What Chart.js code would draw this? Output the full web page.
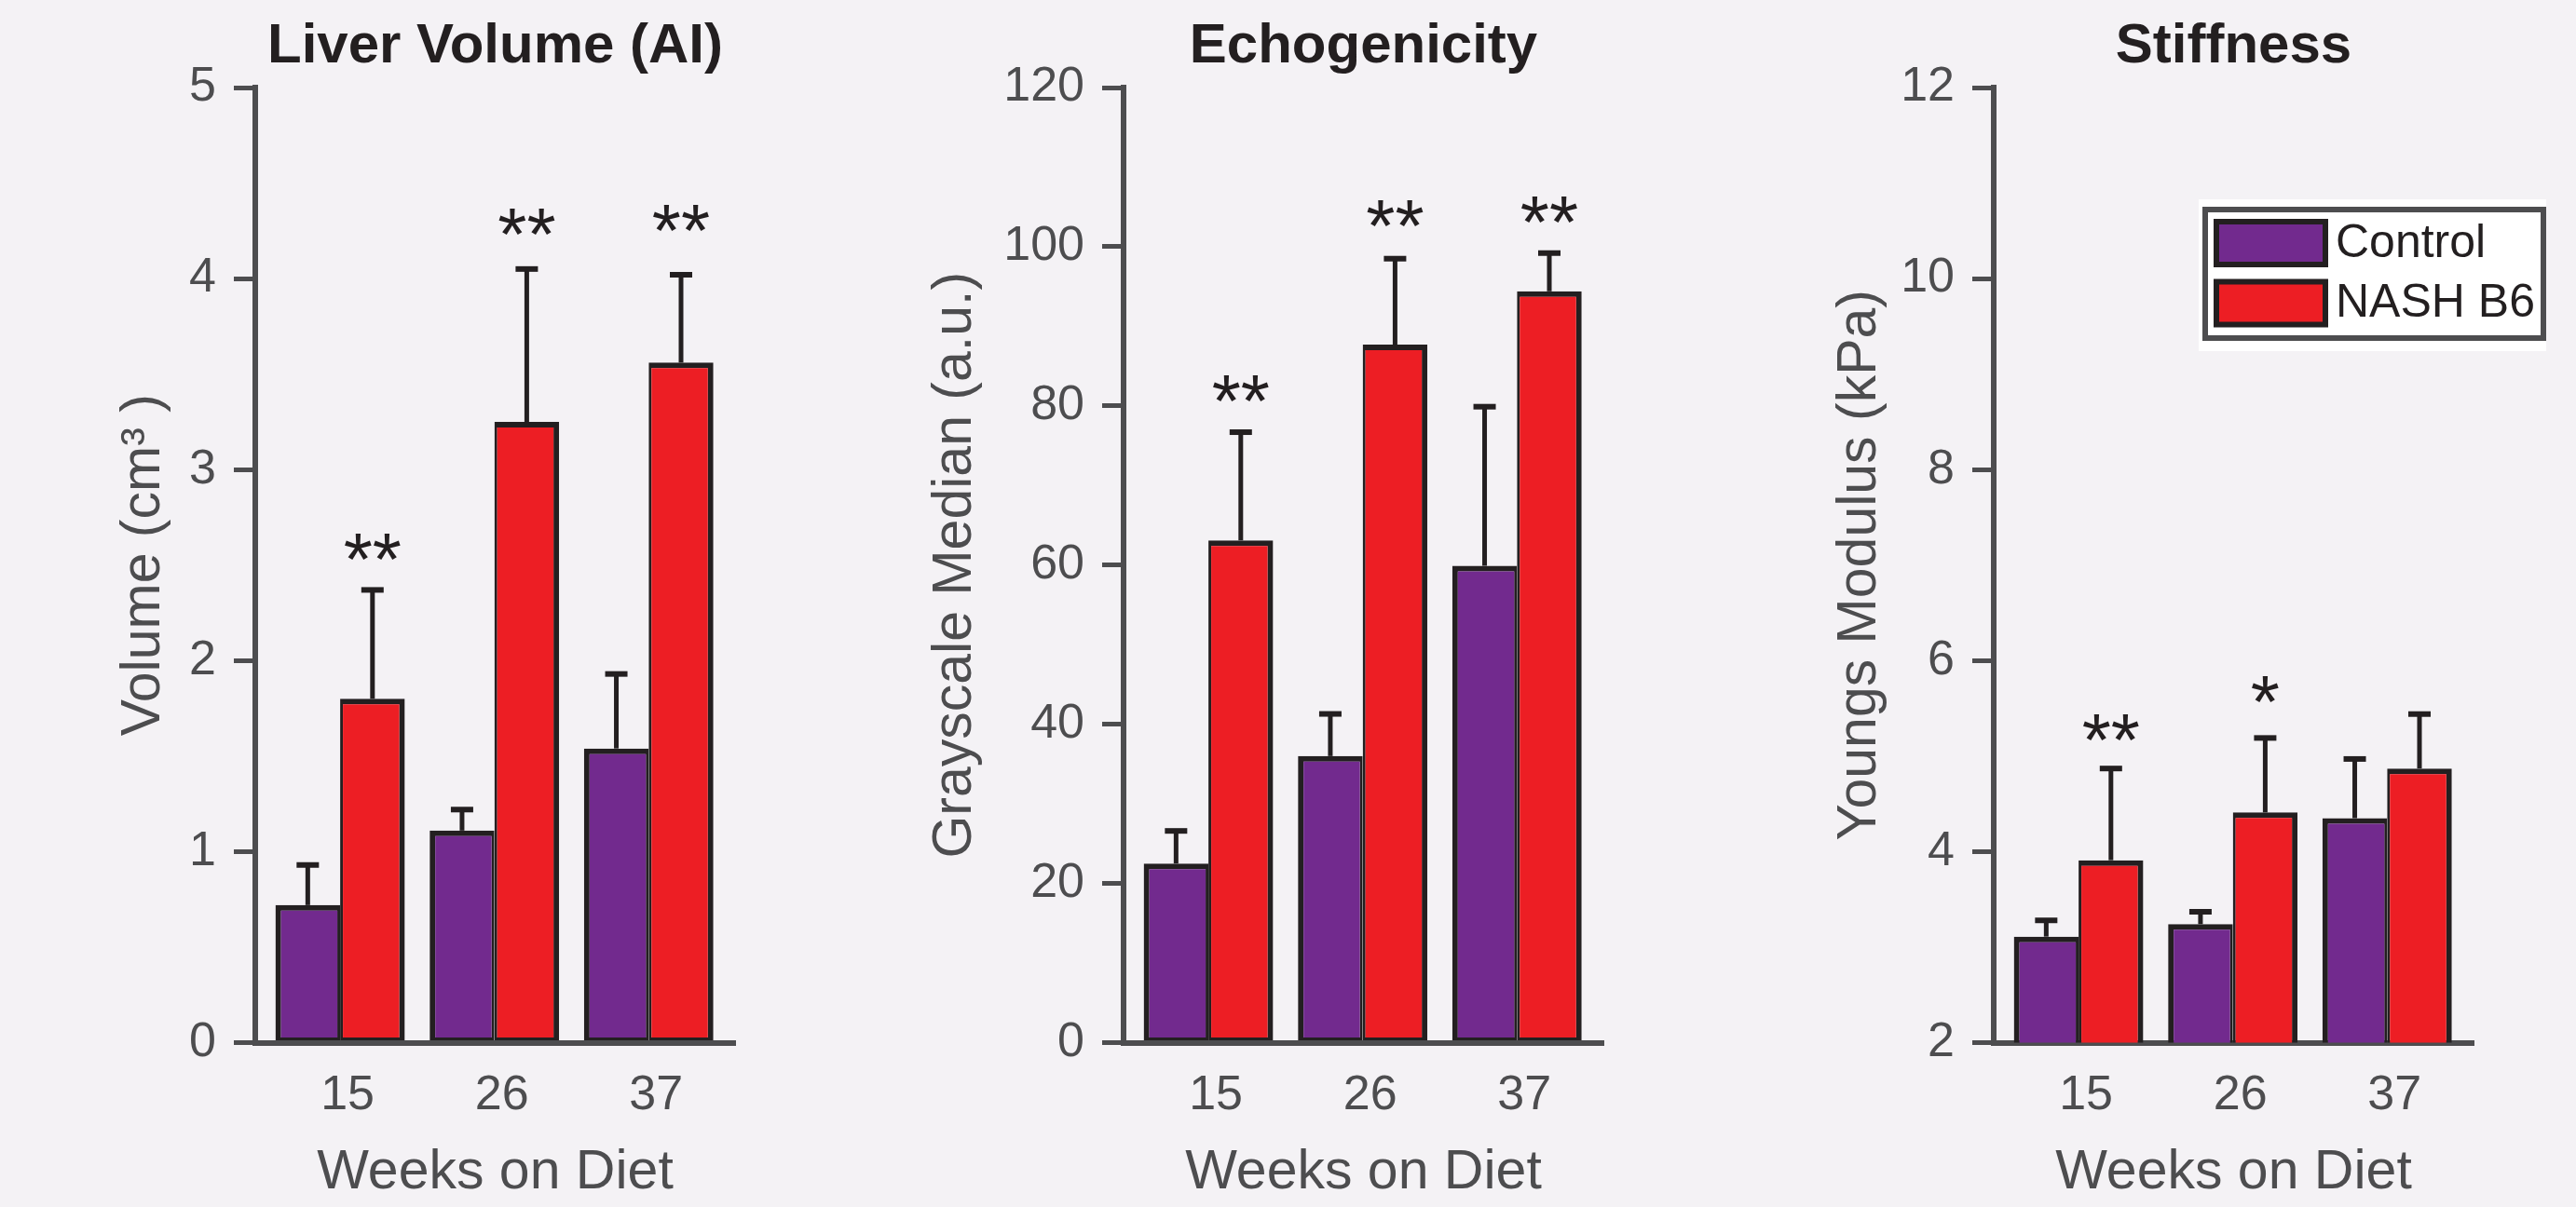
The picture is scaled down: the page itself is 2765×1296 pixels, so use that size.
<!DOCTYPE html>
<html>
<head>
<meta charset="utf-8">
<script src="https://cdn.jsdelivr.net/npm/chart.js@4"></script>
<style>
  body { margin: 0; background: #f4f2f5; overflow: hidden; }
  .panel { position: absolute; top: 0; width: 899px; height: 1296px; }
</style>
</head>
<body>
<div class="panel" style="left:0"><canvas id="volumeChart" width="899" height="1296"></canvas></div>
<div class="panel" style="left:932px"><canvas id="echoChart" width="899" height="1296"></canvas></div>
<div class="panel" style="left:1866px"><canvas id="stiffChart" width="899" height="1296"></canvas></div>
<script>
// weeks on diet, shared by all three panels
const weeks = ['15', '26', '37'];
const seriesNames = ['Control', 'NASH B6'];

// Liver volume (cm3), mean and error (upper bar only)
const volumeControl = [0.72, 1.11, 1.54];
const volumeControlErr = [0.21, 0.11, 0.39];
const volumeNash = [1.80, 3.25, 3.56];
const volumeNashErr = [0.57, 0.80, 0.46];
const volumeStars = ['**', '**', '**'];
const volumeStarY = [2.62, 4.32, 4.34];

// Echogenicity, grayscale median (a.u.)
const echoControl = [22.5, 36.0, 59.9];
const echoControlErr = [4.1, 5.3, 20.0];
const echoNash = [63.1, 87.7, 94.4];
const echoNashErr = [13.6, 10.8, 4.8];
const echoStars = ['**', '**', '**'];
const echoStarY = [82.8, 104.8, 105.3];

// Stiffness, Youngs modulus (kPa)
const stiffControl = [3.11, 3.24, 4.35];
const stiffControlErr = [0.17, 0.13, 0.62];
const stiffNash = [3.91, 4.41, 4.87];
const stiffNashErr = [0.96, 0.78, 0.57];
const stiffStars = ['**', '*', ''];
const stiffStarY = [5.35, 5.75, null];

const FONT = '"Liberation Sans", Arial, Helvetica, sans-serif';
const PURPLE = '#722a8e';
const RED = '#ed1e24';
const EDGE = '#231f20';
const AXIS = '#4d4d4f';

function toPoints(values) {
  return values.map((v, i) => ({ x: i + 1, y: v }));
}

// error bars + significance stars, one plugin per chart
function makeErrorPlugin(stars, starY) {
  return {
    id: 'errorBars',
    afterDatasetsDraw(chart) {
      const ctx = chart.ctx;
      const yScale = chart.scales.y;
      ctx.save();
      ctx.strokeStyle = EDGE;
      ctx.lineCap = 'butt';
      chart.data.datasets.forEach((ds, di) => {
        chart.getDatasetMeta(di).data.forEach((bar, i) => {
          const top = yScale.getPixelForValue(ds.data[i].y + ds.errors[i]);
          ctx.lineWidth = 5;
          ctx.beginPath();
          ctx.moveTo(bar.x, bar.y);
          ctx.lineTo(bar.x, top);
          ctx.stroke();
          ctx.lineWidth = 6;
          ctx.beginPath();
          ctx.moveTo(bar.x - 12, top);
          ctx.lineTo(bar.x + 12, top);
          ctx.stroke();
        });
      });

      const nashBars = chart.getDatasetMeta(1).data;
      const size = 80;
      ctx.fillStyle = EDGE;
      ctx.font = `${size}px ${FONT}`;
      ctx.textAlign = 'center';
      ctx.textBaseline = 'alphabetic';
      stars.forEach((s, i) => {
        if (!s) return;
        const y = yScale.getPixelForValue(starY[i]);
        ctx.fillText(s, nashBars[i].x, y + 0.575 * size);
      });
      ctx.restore();
    }
  };
}

// boxed legend drawn in the stiffness panel
const boxLegend = {
  id: 'boxLegend',
  afterDraw(chart) {
    const ctx = chart.ctx;
    ctx.save();
    ctx.fillStyle = '#ffffff';
    ctx.fillRect(494, 214, 373, 163);
    ctx.strokeStyle = AXIS;
    ctx.lineWidth = 6;
    ctx.strokeRect(501, 225, 363, 138);
    ctx.font = `50px ${FONT}`;
    ctx.textAlign = 'left';
    ctx.textBaseline = 'middle';
    chart.data.datasets.forEach((ds, i) => {
      const y = 235 + i * 64.5;
      ctx.fillStyle = EDGE;
      ctx.fillRect(510, y, 123, 52);
      ctx.fillStyle = ds.backgroundColor;
      ctx.fillRect(516, y + 6, 111, 40);
      ctx.fillStyle = EDGE;
      ctx.fillText(ds.label, 641, y + 27);
    });
    ctx.restore();
  }
};

function makeChart(id, p) {
  const ctx = document.getElementById(id).getContext('2d');
  const plugins = [makeErrorPlugin(p.stars, p.starY)];
  if (p.legend) plugins.push(boxLegend);

  return new Chart(ctx, {
    type: 'bar',
    data: {
      datasets: [
        {
          label: seriesNames[0],
          data: toPoints(p.control),
          errors: p.controlErr,
          backgroundColor: PURPLE,
          borderColor: EDGE,
          borderWidth: { top: 6, left: 6, right: 3, bottom: 3 },
          borderSkipped: false
        },
        {
          label: seriesNames[1],
          data: toPoints(p.nash),
          errors: p.nashErr,
          backgroundColor: RED,
          borderColor: EDGE,
          borderWidth: { top: 6, left: 3, right: 6, bottom: 3 },
          borderSkipped: false
        }
      ]
    },
    options: {
      responsive: false,
      animation: false,
      devicePixelRatio: 1,
      categoryPercentage: 0.839,
      barPercentage: 1,
      layout: { padding: { left: 0, right: 110, top: 0, bottom: 0 } },
      plugins: {
        legend: { display: false },
        tooltip: { enabled: false },
        title: {
          display: true,
          text: p.title,
          fullSize: false,
          color: EDGE,
          font: { family: FONT, size: 60, weight: 'bold' },
          padding: { top: 14, bottom: 8 }
        }
      },
      scales: {
        x: {
          type: 'linear',
          min: 0.45,
          max: 3.56,
          offset: false,
          afterBuildTicks: s => { s.ticks = weeks.map((w, i) => ({ value: i + 1 })); },
          afterFit: s => { s.height = 176.5; },
          grid: { display: false, drawTicks: false, offset: false },
          border: { display: true, color: AXIS, width: 6 },
          ticks: {
            callback: v => weeks[v - 1],
            color: AXIS,
            font: { family: FONT, size: 52 },
            padding: 26,
            labelOffset: 8,
            maxRotation: 0,
            autoSkip: false
          },
          title: {
            display: true,
            text: 'Weeks on Diet',
            color: AXIS,
            font: { family: FONT, size: 59 },
            padding: { top: 0, bottom: 1 }
          }
        },
        y: {
          min: p.yMin,
          max: p.yMax,
          afterFit: s => { s.width = 274; },
          grid: { drawOnChartArea: false, drawTicks: true, tickLength: 23, color: AXIS, lineWidth: 5 },
          border: { display: true, color: AXIS, width: 6 },
          ticks: {
            stepSize: p.yStep,
            color: AXIS,
            font: { family: FONT, size: 52 },
            padding: 19
          },
          title: {
            display: true,
            text: p.yTitle,
            color: AXIS,
            font: { family: FONT, size: 59 },
            padding: { top: p.yTitlePad, bottom: 0 }
          }
        }
      }
    },
    plugins: plugins
  });
}

makeChart('volumeChart', {
  title: 'Liver Volume (AI)',
  yTitle: 'Volume (cm³ )',
  yTitlePad: 119,
  yMin: 0, yMax: 5, yStep: 1,
  control: volumeControl, controlErr: volumeControlErr,
  nash: volumeNash, nashErr: volumeNashErr,
  stars: volumeStars, starY: volumeStarY
});

makeChart('echoChart', {
  title: 'Echogenicity',
  yTitle: 'Grayscale Median (a.u.)',
  yTitlePad: 58,
  yMin: 0, yMax: 120, yStep: 20,
  control: echoControl, controlErr: echoControlErr,
  nash: echoNash, nashErr: echoNashErr,
  stars: echoStars, starY: echoStarY
});

makeChart('stiffChart', {
  title: 'Stiffness',
  yTitle: 'Youngs Modulus (kPa)',
  yTitlePad: 95,
  yMin: 2, yMax: 12, yStep: 2,
  control: stiffControl, controlErr: stiffControlErr,
  nash: stiffNash, nashErr: stiffNashErr,
  stars: stiffStars, starY: stiffStarY,
  legend: true
});
</script>
</body>
</html>
